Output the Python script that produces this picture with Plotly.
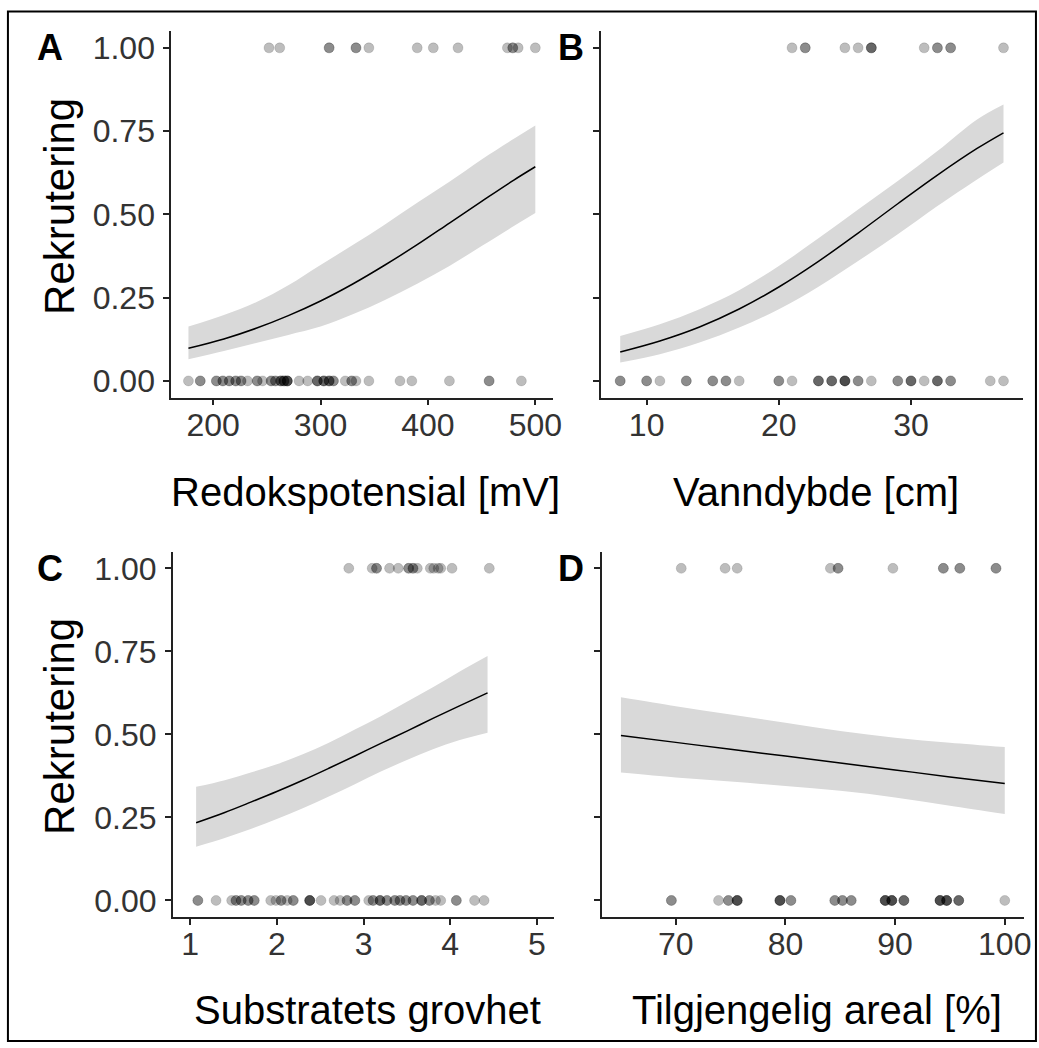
import plotly.graph_objects as go

W, H = 1039, 1048

# ---------------- data ----------------
# Panel A: Redokspotensial [mV]
a_x1 = [252, 262, 308, 308, 333, 333, 345, 390, 405, 428, 474, 479, 479, 484, 500]
a_x0 = [177, 188, 188, 203, 203, 209, 209, 215, 215, 221, 221, 226, 226, 232,
        241, 241, 246, 254, 254, 258, 258, 263, 263, 263, 266, 266, 266,
        269, 269, 269, 269, 280, 288, 297, 297, 297, 303, 303, 303,
        308, 308, 308, 312, 312, 323, 329, 329, 333, 345, 374, 385, 420,
        457, 457, 487]
a_cx = [177, 210, 240, 270, 300, 330, 360, 390, 420, 450, 480, 500]
a_fit = [0.098, 0.126, 0.158, 0.196, 0.240, 0.291, 0.348, 0.409, 0.474, 0.539, 0.603, 0.643]
a_lo = [0.065, 0.090, 0.114, 0.138, 0.163, 0.200, 0.243, 0.292, 0.345, 0.405, 0.465, 0.504]
a_hi = [0.163, 0.198, 0.236, 0.287, 0.348, 0.408, 0.470, 0.535, 0.598, 0.665, 0.727, 0.767]

# Panel B: Vanndybde [cm]
b_x1 = [21, 22, 22, 25, 26, 27, 27, 27, 31, 32, 32, 33, 33, 37]
b_x0 = [8, 8, 10, 10, 11, 13, 13, 15, 15, 16, 16, 17, 20, 20, 21,
        23, 23, 23, 24, 24, 24, 25, 25, 25, 25, 26, 26, 27, 29, 29,
        30, 30, 30, 31, 32, 32, 32, 33, 33, 36, 37]
b_cx = [8, 11, 14, 17, 20, 23, 26, 29, 32, 35, 37]
b_fit = [0.087, 0.120, 0.162, 0.216, 0.282, 0.359, 0.444, 0.532, 0.618, 0.698, 0.745]
b_lo = [0.055, 0.080, 0.115, 0.160, 0.215, 0.283, 0.360, 0.440, 0.525, 0.605, 0.656]
b_hi = [0.135, 0.170, 0.215, 0.272, 0.345, 0.428, 0.515, 0.600, 0.690, 0.785, 0.830]

# Panel C: Substratets grovhet
c_x1 = [2.83, 3.10, 3.15, 3.15, 3.30, 3.40, 3.52, 3.52, 3.57, 3.57, 3.62,
        3.77, 3.81, 3.86, 3.89, 4.02, 4.45]
c_x0 = [1.09, 1.09, 1.30, 1.48, 1.53, 1.53, 1.59, 1.59, 1.67, 1.67, 1.74, 1.74,
        1.93, 1.99, 2.05, 2.05, 2.12, 2.19, 2.19, 2.38, 2.38, 2.38, 2.38,
        2.51, 2.66, 2.73, 2.81, 2.81, 2.90, 2.90, 3.06, 3.11, 3.11,
        3.19, 3.19, 3.19, 3.27, 3.27, 3.36, 3.36, 3.42, 3.42, 3.49, 3.49,
        3.57, 3.57, 3.67, 3.67, 3.67, 3.76, 3.76, 3.83, 3.89, 4.07, 4.07,
        4.28, 4.39]
c_cx = [1.07, 1.4, 1.7, 2.0, 2.3, 2.6, 2.9, 3.2, 3.5, 3.8, 4.1, 4.43]
c_fit = [0.234, 0.265, 0.296, 0.328, 0.362, 0.398, 0.435, 0.473, 0.510, 0.548, 0.585, 0.625]
c_lo = [0.162, 0.188, 0.215, 0.245, 0.278, 0.313, 0.350, 0.388, 0.423, 0.455, 0.482, 0.505]
c_hi = [0.342, 0.362, 0.385, 0.410, 0.440, 0.475, 0.515, 0.555, 0.598, 0.642, 0.688, 0.736]

# Panel D: Tilgjengelig areal [%]
d_x1 = [70.5, 74.5, 75.6, 84.1, 84.8, 84.8, 89.8, 94.4, 94.4, 95.9, 95.9,
        99.2, 99.2]
d_x0 = [69.6, 69.6, 73.9, 74.8, 74.8, 75.6, 75.6, 75.6, 75.6,
        79.5, 79.5, 79.5, 79.5, 80.5, 80.5, 84.5, 84.5, 85.2, 85.2,
        86.0, 86.0, 89.1, 89.1, 89.1, 89.1, 89.7, 89.7, 89.7, 89.7,
        90.8, 90.8, 90.8, 94.1, 94.1, 94.1, 94.1, 94.7, 94.7, 94.7, 94.7,
        95.8, 95.8, 95.8, 100.0]
d_cx = [65, 70, 75, 80, 85, 90, 95, 100]
d_fit = [0.497, 0.476, 0.455, 0.435, 0.414, 0.393, 0.372, 0.352]
d_lo = [0.385, 0.370, 0.358, 0.345, 0.330, 0.310, 0.285, 0.260]
d_hi = [0.612, 0.585, 0.560, 0.535, 0.510, 0.490, 0.475, 0.462]

y_ticks = [0, 0.25, 0.5, 0.75, 1.0]
y_ticktext = ["0.00", "0.25", "0.50", "0.75", "1.00"]

panels = [
    dict(letter="A", title="Redokspotensial [mV]", x1=a_x1, x0=a_x0, cx=a_cx,
         fit=a_fit, lo=a_lo, hi=a_hi, xr=[160.85, 516.15],
         xt=[200, 300, 400, 500], ylab=True),
    dict(letter="B", title="Vanndybde [cm]", x1=b_x1, x0=b_x0, cx=b_cx,
         fit=b_fit, lo=b_lo, hi=b_hi, xr=[6.55, 38.45],
         xt=[10, 20, 30], ylab=False),
    dict(letter="C", title="Substratets grovhet", x1=c_x1, x0=c_x0, cx=c_cx,
         fit=c_fit, lo=c_lo, hi=c_hi, xr=[0.8, 5.2],
         xt=[1, 2, 3, 4, 5], ylab=True),
    dict(letter="D", title="Tilgjengelig areal [%]", x1=d_x1, x0=d_x0, cx=d_cx,
         fit=d_fit, lo=d_lo, hi=d_hi, xr=[63.25, 101.75],
         xt=[70, 80, 90, 100], ylab=False),
]

# pixel boxes (left, right, top, bottom)
boxes = [
    (172.6, 557.5, 30.3, 397.7),
    (606.3, 1031.6, 30.3, 397.7),
    (174.2, 559.2, 552.3, 918.7),
    (607.0, 1032.9, 552.3, 918.7),
]

def px(x):
    return x / W

def py(y):
    return 1 - y / H

FONT = "Liberation Sans, Arial, sans-serif"
fig = go.Figure()
layout = dict(
    width=W, height=H, margin=dict(l=0, r=0, t=0, b=0),
    paper_bgcolor="white", plot_bgcolor="white", showlegend=False,
    font=dict(family=FONT, color="#333333"),
)
annotations = []

for i, (p, b) in enumerate(zip(panels, boxes), start=1):
    sfx = "" if i == 1 else str(i)
    xa, ya = "x" + sfx, "y" + sfx
    # ribbon
    fig.add_trace(go.Scatter(x=p["cx"], y=p["lo"], mode="lines",
                             line=dict(width=0, shape="spline", color="rgba(0,0,0,0)"),
                             xaxis=xa, yaxis=ya, hoverinfo="skip"))
    fig.add_trace(go.Scatter(x=p["cx"], y=p["hi"], mode="lines", fill="tonexty",
                             fillcolor="#d9d9d9",
                             line=dict(width=0, shape="spline", color="rgba(0,0,0,0)"),
                             xaxis=xa, yaxis=ya, hoverinfo="skip"))
    # fitted line
    fig.add_trace(go.Scatter(x=p["cx"], y=p["fit"], mode="lines",
                             line=dict(width=1.5, shape="spline", color="black"),
                             xaxis=xa, yaxis=ya))
    # points
    xs = p["x0"] + p["x1"]
    ys = [0] * len(p["x0"]) + [1] * len(p["x1"])
    fig.add_trace(go.Scatter(x=xs, y=ys, mode="markers",
                             marker=dict(size=10, color="rgba(0,0,0,0.26)",
                                         line=dict(width=1, color="rgba(0,0,0,0.12)")),
                             xaxis=xa, yaxis=ya))
    l, r, t, bt = b
    layout["xaxis" + sfx] = dict(
        domain=[px(l), px(r)], range=p["xr"], anchor=ya,
        tickvals=p["xt"], ticks="outside", ticklen=6, tickwidth=1.5,
        tickcolor="#222222", showline=True, linecolor="#222222", linewidth=1.5,
        showgrid=False, zeroline=False, ticklabelstandoff=-8,
        tickfont=dict(size=32, color="#333333", family=FONT),
    )
    layout["yaxis" + sfx] = dict(
        domain=[py(bt), py(t)], range=[-0.05, 1.05], anchor=xa,
        tickvals=y_ticks, ticktext=y_ticktext, showticklabels=p["ylab"],
        ticks="outside", ticklen=6, tickwidth=1.5, tickcolor="#222222",
        showline=True, linecolor="#222222", linewidth=1.5,
        showgrid=False, zeroline=False, ticklabelstandoff=2,
        tickfont=dict(size=32, color="#333333", family=FONT),
    )
    # x title
    title_y = 492 if i <= 2 else 1012
    annotations.append(dict(text=p["title"], x=px((l + r) / 2 + 4), y=py(title_y),
                            xref="paper", yref="paper", showarrow=False,
                            xanchor="center", yanchor="middle",
                            font=dict(size=40, color="black", family=FONT)))
    # y title
    if p["ylab"]:
        annotations.append(dict(text="Rekrutering", x=px(60), y=py((t + bt) / 2 - 8),
                                xref="paper", yref="paper", showarrow=False,
                                textangle=-90, xanchor="center", yanchor="middle",
                                font=dict(size=42, color="black", family=FONT)))
    # panel letter
    lx = 50 if i in (1, 3) else 576
    ly = 47 if i <= 2 else 569
    annotations.append(dict(text="<b>" + p["letter"] + "</b>", x=px(lx), y=py(ly),
                            xref="paper", yref="paper", showarrow=False,
                            xanchor="center", yanchor="middle",
                            font=dict(size=36, color="black", family=FONT)))

layout["annotations"] = annotations
layout["shapes"] = [dict(type="rect", xref="paper", yref="paper",
                         x0=px(8), x1=px(1045), y0=py(1043), y1=py(10.5),
                         line=dict(color="black", width=2))]
fig.update_layout(**layout)
fig.write_html("out.html")
